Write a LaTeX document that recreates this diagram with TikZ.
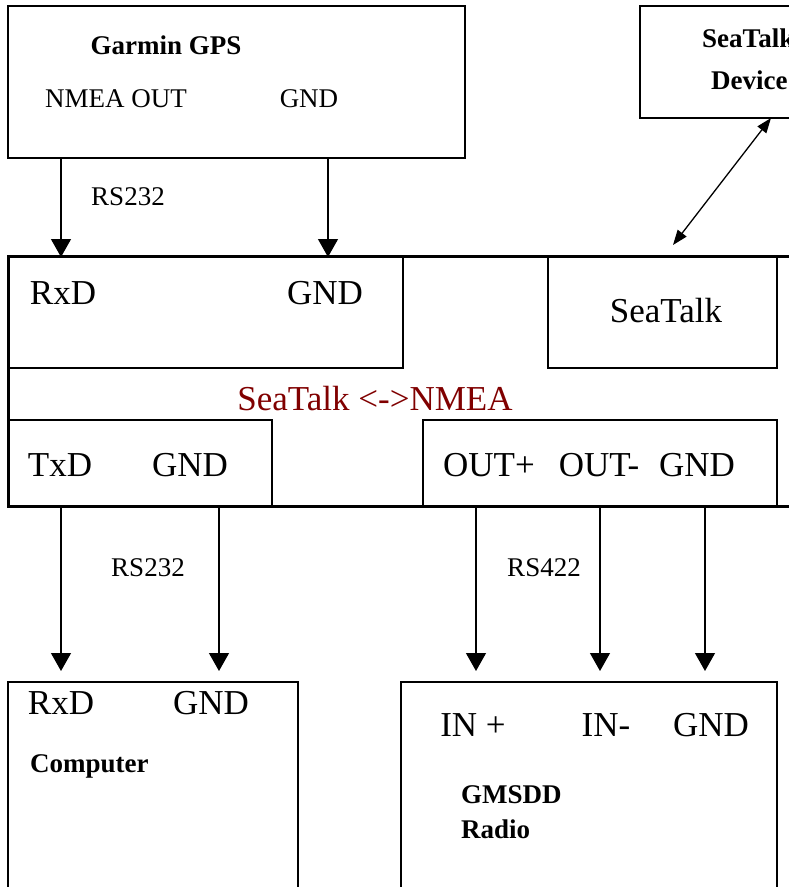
\documentclass[tikz,border=0pt]{standalone}
\usepackage{fontspec}
\setmainfont{Liberation Serif}
\usetikzlibrary{arrows.meta}
\definecolor{darkred}{RGB}{128,0,0}
\tikzset{
  thinbox/.style={draw=black, line width=1.3pt},
  thickbox/.style={draw=black, line width=3pt},
  smalltxt/.style={inner sep=0pt, font=\fontsize{27}{31}\selectfont},
  boldtxt/.style={inner sep=0pt, font=\fontsize{27}{31}\selectfont\bfseries},
  bigtxt/.style={inner sep=0pt, font=\fontsize{35}{40}\selectfont},
  sigarrow/.style={line width=1.3pt, -{Triangle[width=20pt,length=18pt]}},
  dblarrow/.style={line width=1.3pt, {Triangle[width=11pt,length=15pt]}-{Triangle[width=11pt,length=15pt]}}
}
\begin{document}
\begin{tikzpicture}[x=1pt,y=-1pt]
\useasboundingbox (0,0) rectangle (789,887);
\clip (0,0) rectangle (789,887);
% boxes
\draw[thinbox] (8,6) rectangle (465,158);
\draw[thinbox] (640,6) rectangle (840,118);
\draw[thinbox] (8,256) rectangle (403,368);
\draw[thinbox] (548,256) rectangle (777,368);
\draw[thinbox] (8,420) rectangle (272,506);
\draw[thinbox] (423,420) rectangle (777,506);
\draw[thickbox] (840,256) -- (8,256) -- (8,506) -- (840,506);
\draw[thinbox] (8,682) rectangle (298,950);
\draw[thinbox] (401,682) rectangle (777,950);
% texts
\node[boldtxt] (gpstitle) at (166,45) {Garmin GPS};
\node[smalltxt] (gpsnmea) at (116,99) {NMEA OUT};
\node[smalltxt] (gpsgnd) at (309,99) {GND};
\node[boldtxt, anchor=west] (stdev1) at (702,38) {SeaTalk};
\node[boldtxt, anchor=west] (stdev2) at (711,80) {Device};
\node[bigtxt] (rxd) at (63,293) {RxD};
\node[bigtxt] (rxgnd) at (325,293) {GND};
\node[bigtxt] (seatalk) at (666,311) {SeaTalk};
\node[bigtxt, text=darkred] (conv) at (375,399) {SeaTalk <->NMEA};
\node[bigtxt] (txd) at (60,465) {TxD};
\node[bigtxt] (txgnd) at (190,465) {GND};
\node[bigtxt] (outp) at (489,465) {OUT+};
\node[bigtxt] (outm) at (599,465) {OUT-};
\node[bigtxt] (outgnd) at (697,465) {GND};
\node[smalltxt] (rs232a) at (128,197) {RS232};
\node[smalltxt] (rs232b) at (148,568) {RS232};
\node[smalltxt] (rs422) at (544,568) {RS422};
\node[bigtxt] (pcrxd) at (61,703) {RxD};
\node[bigtxt] (pcgnd) at (211,703) {GND};
\node[boldtxt, anchor=west] (pc) at (30,766) {Computer};
\node[bigtxt] (inp) at (473,725) {IN +};
\node[bigtxt] (inm) at (606,725) {IN-};
\node[bigtxt] (ingnd) at (711,725) {GND};
\node[boldtxt, anchor=west] (radio1) at (461,795) {GMSDD};
\node[boldtxt, anchor=west] (radio2) at (461,829) {Radio};
% connector end points
\coordinate (a1) at (61,158);  \coordinate (b1) at (61,257);
\coordinate (a2) at (328,158); \coordinate (b2) at (328,257);
\coordinate (c1) at (61,507);  \coordinate (d1) at (61,671);
\coordinate (c2) at (219,507); \coordinate (d2) at (219,671);
\coordinate (c3) at (476,507); \coordinate (d3) at (476,671);
\coordinate (c4) at (600,507); \coordinate (d4) at (600,671);
\coordinate (c5) at (705,507); \coordinate (d5) at (705,671);
\coordinate (s1) at (771,118); \coordinate (s2) at (673,245);
% connectors
\draw[sigarrow] (a1) -- (b1);
\draw[sigarrow] (a2) -- (b2);
\draw[sigarrow] (c1) -- (d1);
\draw[sigarrow] (c2) -- (d2);
\draw[sigarrow] (c3) -- (d3);
\draw[sigarrow] (c4) -- (d4);
\draw[sigarrow] (c5) -- (d5);
\draw[dblarrow] (s1) -- (s2);
\end{tikzpicture}
\end{document}
